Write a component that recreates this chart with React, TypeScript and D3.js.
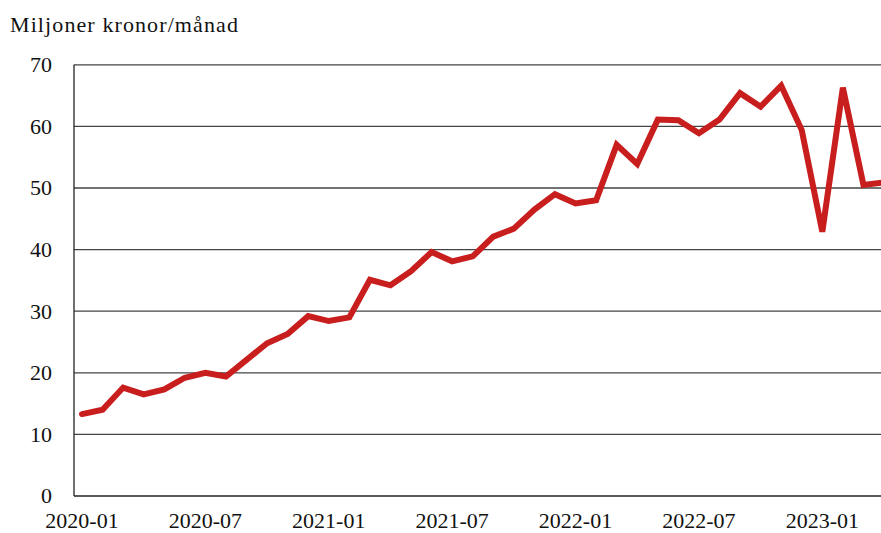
import React from 'react';
import * as d3 from 'd3';

// månadsvärden, miljoner kronor
const months = [
  '2020-01', '2020-02', '2020-03', '2020-04', '2020-05', '2020-06', '2020-07', '2020-08', '2020-09', '2020-10', '2020-11', '2020-12',
  '2021-01', '2021-02', '2021-03', '2021-04', '2021-05', '2021-06', '2021-07', '2021-08', '2021-09', '2021-10', '2021-11', '2021-12',
  '2022-01', '2022-02', '2022-03', '2022-04', '2022-05', '2022-06', '2022-07', '2022-08', '2022-09', '2022-10', '2022-11', '2022-12',
  '2023-01', '2023-02', '2023-03', '2023-04',
];
const values = [
  13.3, 14.0, 17.6, 16.5, 17.3, 19.2, 20.0, 19.4, 22.1, 24.8, 26.3, 29.2,
  28.4, 29.0, 35.1, 34.2, 36.5, 39.6, 38.1, 38.9, 42.1, 43.4, 46.5, 49.0,
  47.5, 48.0, 57.0, 53.9, 61.1, 61.0, 58.9, 61.1, 65.4, 63.2, 66.6, 59.4,
  42.9, 66.3, 50.5, 50.9,
];
const yTicks = [0, 10, 20, 30, 40, 50, 60, 70];
const xTickLabels = ['2020-01', '2020-07', '2021-01', '2021-07', '2022-01', '2022-07', '2023-01'];
const unitLabel = 'Miljoner kronor/månad';

const width = 881;
const height = 533;
const font = '"Liberation Serif", "Times New Roman", serif';

export default function App() {
  const x = d3.scaleLinear().domain([0, months.length - 1]).range([82, 884]);
  const y = d3.scaleLinear().domain([0, 70]).range([496, 64.8]);

  const line = d3.line<number>()
    .x((_, i) => x(i))
    .y(d => y(d));

  return (
    <svg
      width={width}
      height={height}
      style={{ position: 'absolute', left: 0, top: 0, background: '#fff' }}
      fontFamily={font}
    >
      <text x={10} y={32} fontSize={22} letterSpacing={1.1} fill="#111">{unitLabel}</text>

      {yTicks.map(t => (
        <g key={t}>
          {t > 0 && (
            <line x1={74} x2={width} y1={y(t)} y2={y(t)} stroke="#444" strokeWidth={1.3} />
          )}
          <text x={52} y={y(t)} dy="0.34em" textAnchor="end" fontSize={22} fill="#111">{t}</text>
        </g>
      ))}

      <line x1={74} x2={width} y1={y(0)} y2={y(0)} stroke="#222" strokeWidth={1.3} />
      <line x1={74} x2={74} y1={y(70)} y2={y(0)} stroke="#222" strokeWidth={1.3} />

      {xTickLabels.map(lbl => (
        <text key={lbl} x={x(months.indexOf(lbl))} y={528} textAnchor="middle" fontSize={22} fill="#111">{lbl}</text>
      ))}

      <path d={line(values) ?? ''} fill="none" stroke="#c81e1e" strokeWidth={6} strokeLinejoin="miter" strokeLinecap="round" />
    </svg>
  );
}
